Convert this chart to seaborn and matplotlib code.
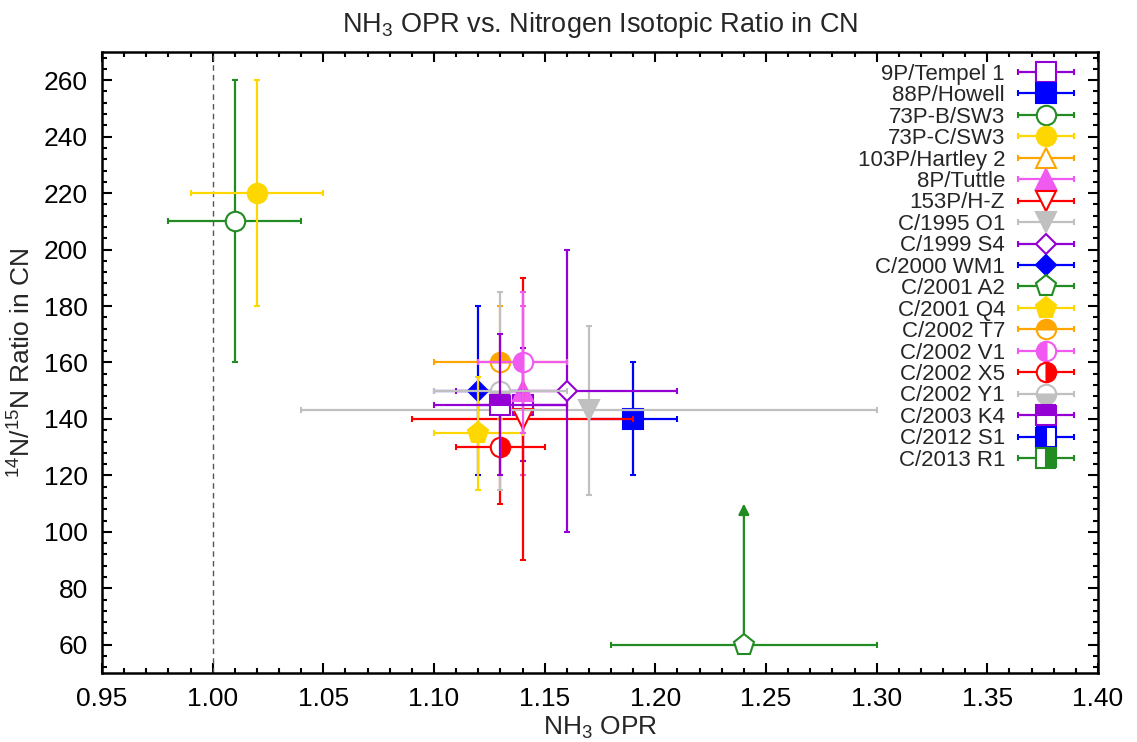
import numpy as np
import matplotlib
matplotlib.use("Agg")
import matplotlib.pyplot as plt
import seaborn as sns
from matplotlib.container import ErrorbarContainer
from matplotlib.legend_handler import HandlerErrorbar
from matplotlib.ticker import MultipleLocator, FormatStrFormatter

nan = np.nan

comets = ["9P/Tempel 1", "88P/Howell", "73P-B/SW3", "73P-C/SW3", "103P/Hartley 2",
          "8P/Tuttle", "153P/H-Z", "C/1995 O1", "C/1999 S4", "C/2000 WM1",
          "C/2001 A2", "C/2001 Q4", "C/2002 T7", "C/2002 V1", "C/2002 X5",
          "C/2002 Y1", "C/2003 K4", "C/2012 S1", "C/2013 R1"]
opr = [1.14, 1.19, 1.01, 1.02, nan, 1.14, 1.14, 1.17, 1.16, 1.12,
       1.24, 1.12, 1.13, 1.14, 1.13, 1.13, 1.13, nan, nan]
opr_err = [0.02, 0.02, 0.03, 0.03, nan, 0.02, 0.05, 0.13, 0.05, 0.02,
           0.06, 0.02, 0.03, 0.02, 0.02, 0.03, 0.03, nan, nan]
ratio = [145, 140, 210, 220, nan, 150, 140, 143, 150, 150,
         60, 135, 160, 160, 130, 150, 145, nan, nan]
ratio_err = [20, 20, 50, 40, nan, 30, 50, 30, 50, 30,
             50, 20, 20, 25, 20, 35, 25, nan, nan]
lower_limit = [False, False, False, False, False, False, False, False, False, False,
               True, False, False, False, False, False, False, False, False]

colors = ["#9400D3", "#0000FF", "#228B22", "#FFD700", "#FFA500",
          "#F05AF0", "#FF0000", "#C0C0C0", "#9400D3", "#0000FF",
          "#228B22", "#FFD700", "#FFA500", "#F05AF0", "#FF0000",
          "#C0C0C0", "#9400D3", "#0000FF", "#228B22"]
markers = ["s", "s", "o", "o", "^", "^", "v", "v", "D", "D",
           "p", "p", "o", "o", "o", "o", "s", "s", "s"]
fills = ["open", "full", "open", "full", "open", "full", "open", "full", "open", "full",
         "open", "full", "top", "left", "right", "bottom", "top", "left", "right"]

sns.set_theme(style="ticks")
plt.rcParams['font.family'] = ['Liberation Sans', 'DejaVu Sans']
plt.rcParams['mathtext.default'] = 'regular'

fig, ax = plt.subplots(figsize=(11.37, 7.42), dpi=100)
fig.subplots_adjust(left=0.0897, right=0.9657, bottom=0.093, top=0.930)

msize = {"s": 14, "o": 14, "^": 14.5, "v": 14.5, "D": 10, "p": 15.5}

def mstyle(i):
    c = colors[i]
    f = fills[i]
    d = dict(marker=markers[i], markersize=msize[markers[i]], markeredgecolor=c,
             markeredgewidth=1.5)
    if f == "full":
        d.update(markerfacecolor=c, fillstyle="full")
    elif f == "open":
        d.update(markerfacecolor="white", fillstyle="full")
    else:
        d.update(markerfacecolor=c, fillstyle=f, markerfacecoloralt="white")
    return d

ax.axvline(1.00, color="#555555", lw=1.0, ls=(0, (4, 3)), zorder=1)

handles = []
for i, name in enumerate(comets):
    st = mstyle(i)
    if not np.isnan(opr[i]):
        if lower_limit[i]:
            ax.annotate("", xy=(opr[i], ratio[i] + ratio_err[i]), xytext=(opr[i], ratio[i]),
                        arrowprops=dict(arrowstyle="-|>", color=colors[i], lw=1.6,
                                        mutation_scale=16, shrinkA=0, shrinkB=0),
                        zorder=2.5 + i)
            ax.errorbar([opr[i]], [ratio[i]], xerr=[opr_err[i]],
                        color=colors[i], elinewidth=1.6, capsize=2.5, capthick=1.6,
                        linestyle="none", zorder=3 + i, **st)
        else:
            ax.errorbar([opr[i]], [ratio[i]], xerr=[opr_err[i]], yerr=[ratio_err[i]],
                        color=colors[i], elinewidth=1.6, capsize=2.5, capthick=1.6,
                        linestyle="none", zorder=3 + i, **st)
    h = ax.errorbar([nan], [nan], xerr=[0.01], color=colors[i], elinewidth=1.6,
                    capsize=2.5, capthick=1.6, linestyle="none", label=name, **st)
    handles.append(h)

ax.set_xlim(0.95, 1.40)
ax.set_ylim(50, 270)
ax.xaxis.set_major_locator(MultipleLocator(0.05))
ax.xaxis.set_minor_locator(MultipleLocator(0.01))
ax.yaxis.set_major_locator(MultipleLocator(20))
ax.yaxis.set_minor_locator(MultipleLocator(4))
ax.xaxis.set_major_formatter(FormatStrFormatter("%.2f"))
ax.set_yticks(np.arange(60, 261, 20))
ax.tick_params(which="both", direction="in", top=True, right=True, width=1.5,
               colors="black", labelsize=19)
ax.tick_params(which="major", length=7, pad=10)
ax.tick_params(which="minor", length=3.5)
for sp in ax.spines.values():
    sp.set_linewidth(1.8)
    sp.set_color("black")

ax.set_title("NH$_3$ OPR vs. Nitrogen Isotopic Ratio in CN", fontsize=19.5, pad=14)
ax.set_xlabel("NH$_3$ OPR", fontsize=19, labelpad=3)
ax.set_ylabel("$^{14}$N/$^{15}$N Ratio in CN", fontsize=19, labelpad=6)

leg = ax.legend(handles=handles, labels=comets, loc="upper right",
                bbox_to_anchor=(0.977, 0.981), borderaxespad=0, borderpad=0,
                frameon=False, markerfirst=False, fontsize=16, numpoints=1,
                handlelength=2.6, handletextpad=0.55, labelspacing=0.02,
                handler_map={ErrorbarContainer: HandlerErrorbar(xerr_size=1.25)})

fig.savefig("out.png", dpi=100)
